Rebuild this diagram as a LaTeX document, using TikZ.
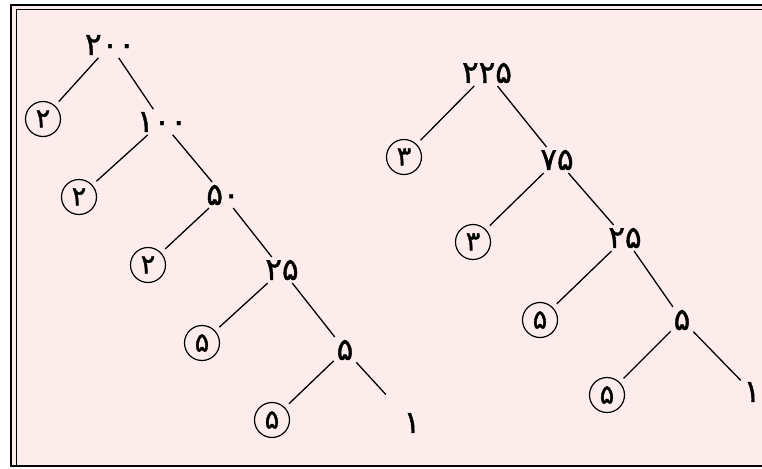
\documentclass[tikz,border=0pt]{standalone}
\usepackage{fontspec}
\newfontfamily\farsi[Script=Arabic,FakeBold=1.3]{DejaVu Sans}
\definecolor{paper}{RGB}{253,236,236}
\tikzset{
  num/.style={font=\farsi\fontsize{31}{33}\selectfont, inner sep=0pt, outer sep=3pt},
  fac/.style={num, font=\farsi\fontsize{27}{29}\selectfont, circle, draw, line width=1.2pt, minimum size=35pt, inner sep=0pt, outer sep=6pt},
  edge/.style={line width=1.3pt}
}
\begin{document}
\begin{tikzpicture}[x=1pt,y=-1pt]
			\useasboundingbox (0,0) rectangle (762,468);
			\fill[paper] (11,5) rectangle (762,466);
			\draw[line width=2.5pt] (762,5) -- (11,5) -- (11,466) -- (762,466);
			\draw[line width=0.8pt] (762,9) -- (16,9) -- (16,466);
			%
			\node[num] (200) at (110,45) {۲۰۰};
			\node[fac] (2a) at (43,119) {۲};
			\node[num] (100) at (162,122) {۱۰۰};
			\node[fac] (2b) at (79,197) {۲};
			\node[num] (50) at (223,195) {۵۰};
			\node[fac] (2c) at (148,265) {۲};
			\node[num] (25) at (282,270) {۲۵};
			\node[fac] (5a) at (202,343) {۵};
			\node[num] (5) at (345,350) {۵};
			\node[fac] (5b) at (272,420) {۵};
			\node[num] (1) at (412,423) {۱};
			\draw[edge] (200) -- (2a);
			\draw[edge] (200) -- (100);
			\draw[edge] (100) -- (2b);
			\draw[edge] (100) -- (50);
			\draw[edge] (50) -- (2c);
			\draw[edge] (50) -- (25);
			\draw[edge] (25) -- (5a);
			\draw[edge] (25) -- (5);
			\draw[edge] (5) -- (5b);
			\draw[edge, shorten >=22pt] (5) -- (1);
			%
			\node[num] (225) at (487,73) {۲۲۵};
			\node[fac] (3a) at (404,157) {۳};
			\node[num] (75) at (557,160) {۷۵};
			\node[fac] (3b) at (473,242) {۳};
			\node[num] (25') at (625,238) {۲۵};
			\node[fac] (5c) at (540,320) {۵};
			\node[num] (5') at (682,320) {۵};
			\node[fac] (5d) at (607,395) {۵};
			\node[num] (1') at (752,392) {۱};
			\draw[edge] (225) -- (3a);
			\draw[edge] (225) -- (75);
			\draw[edge] (75) -- (3b);
			\draw[edge] (75) -- (25');
			\draw[edge] (25') -- (5c);
			\draw[edge] (25') -- (5');
			\draw[edge] (5') -- (5d);
			\draw[edge] (5') -- (1');
\end{tikzpicture}
\end{document}
